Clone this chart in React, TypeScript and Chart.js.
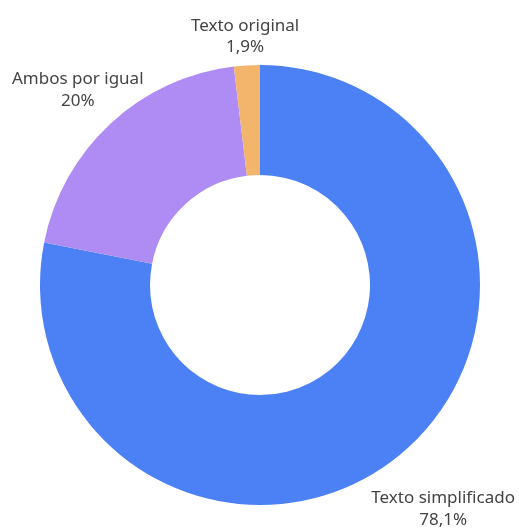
import React, { useEffect, useRef } from "react";
import { Chart, registerables } from "chart.js";

Chart.register(...registerables);

const categories = ["Texto simplificado", "Ambos por igual", "Texto original"];
const values = [78.1, 20, 1.9];
const valueLabels = ["78,1%", "20%", "1,9%"];
const colors = ["#4c81f6", "#ae8cf3", "#f2b56b"];

const W = 519;
const H = 529;
const FONT = '17px "Noto Sans"';
const LINE = 21.7;
const CAP = 13;
const GAP = 10;
const EDGE = { left: 12, right: 4, top: 4, bottom: 2 };

const outsideLabels = {
  id: "outsideLabels",
  afterDraw(chart: any) {
    const ctx = chart.ctx;
    const meta = chart.getDatasetMeta(0);
    ctx.save();
    ctx.font = FONT;
    ctx.fillStyle = "#444";
    ctx.textAlign = "center";
    ctx.textBaseline = "alphabetic";
    meta.data.forEach((arc: any, i: number) => {
      const { x, y, startAngle, endAngle, outerRadius } = arc.getProps(
        ["x", "y", "startAngle", "endAngle", "outerRadius"],
        true
      );
      const mid = (startAngle + endAngle) / 2;
      const dx = Math.cos(mid);
      const dy = Math.sin(mid);
      const l1 = categories[i];
      const l2 = valueLabels[i];
      const hw = Math.max(ctx.measureText(l1).width, ctx.measureText(l2).width) / 2;
      const hh = (CAP + LINE) / 2;
      let d = outerRadius + GAP + hw * Math.abs(dx) + hh * Math.abs(dy);
      if (dx < -1e-6) d = Math.min(d, (x - hw - EDGE.left) / -dx);
      if (dx > 1e-6) d = Math.min(d, (W - EDGE.right - hw - x) / dx);
      if (dy < -1e-6) d = Math.min(d, (y - hh - EDGE.top) / -dy);
      if (dy > 1e-6) d = Math.min(d, (H - EDGE.bottom - hh - y) / dy);
      const cx = x + dx * d;
      const cy = y + dy * d;
      ctx.fillText(l1, cx, cy - hh + CAP);
      ctx.fillText(l2, cx, cy + hh);
    });
    ctx.restore();
  },
};

export default function App() {
  const ref = useRef<HTMLCanvasElement>(null);
  useEffect(() => {
    if (!ref.current) return;
    const chart = new Chart(ref.current, {
      type: "doughnut",
      data: {
        labels: categories,
        datasets: [
          {
            data: values,
            backgroundColor: colors,
            borderWidth: 0,
          },
        ],
      },
      options: {
        responsive: false,
        animation: false,
        cutout: "50%",
        layout: { padding: { left: 40, right: 39, top: 65, bottom: 24 } },
        plugins: {
          legend: { display: false },
          tooltip: { enabled: false },
        },
      },
      plugins: [outsideLabels],
    });
    return () => chart.destroy();
  }, []);
  return (
    <div style={{ position: "fixed", left: 0, top: 0, width: W, height: H, background: "#fff" }}>
      <canvas ref={ref} width={W} height={H} style={{ width: W, height: H, display: "block" }} />
    </div>
  );
}
